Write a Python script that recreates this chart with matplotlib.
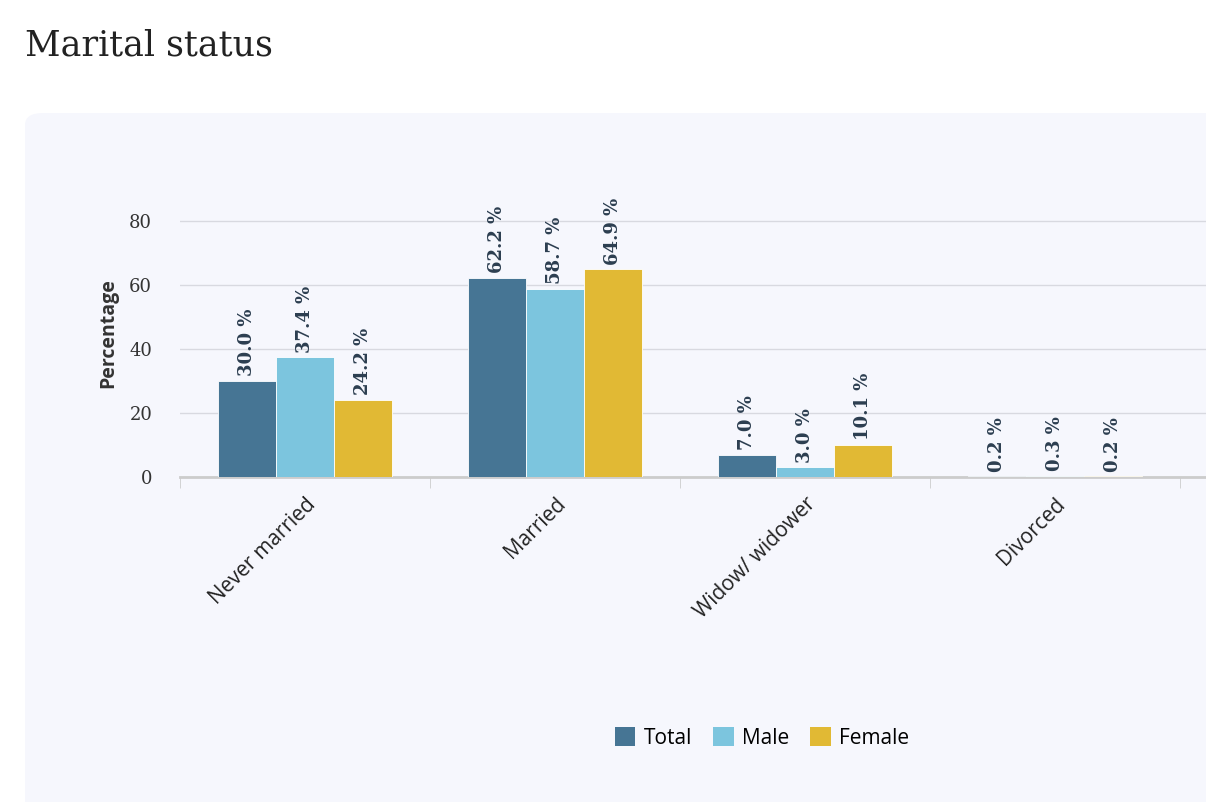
import matplotlib
matplotlib.use("Agg")
import matplotlib.pyplot as plt
from matplotlib.patches import FancyBboxPatch, Patch
import numpy as np

categories = ["Never married", "Married", "Widow/ widower", "Divorced"]
series = ["Total", "Male", "Female"]
total = [30.0, 62.2, 7.0, 0.2]
male = [37.4, 58.7, 3.0, 0.3]
female = [24.2, 64.9, 10.1, 0.2]
colors = ["#467594", "#7cc5de", "#e1b934"]
yticks = [0, 20, 40, 60, 80]

fig = plt.figure(figsize=(12.06, 8.02), dpi=100)
fig.patch.set_facecolor("white")
fig.add_artist(FancyBboxPatch((25/1206, -0.05), 1.2, 1-113/802+0.05, boxstyle="round,pad=0,rounding_size=0.015",
                              transform=fig.transFigure, facecolor="#f6f7fd", edgecolor="none", zorder=0))
fig.text(25/1206, 1-45/802, "Marital status", family="DejaVu Serif", fontsize=25, color="#222222", va="center")

ax = fig.add_axes([180/1206, 1-477/802, 1026/1206, (477-189)/802])
ax.set_facecolor("none")
x = np.arange(len(categories))
w = 0.232
for i, (vals, c) in enumerate(zip([total, male, female], colors)):
    pos = x + (i-1)*w
    ax.bar(pos, vals, width=w, color=c, zorder=3, edgecolor="white", linewidth=0.6)
    for p, v in zip(pos, vals):
        ax.text(p, v+1.5, f"{v:.1f} %", rotation=90, ha="center", va="bottom",
                family="DejaVu Serif", fontweight="bold", fontsize=13, color="#2c3e50")
ax.set_xlim(-0.5, 3.604)
ax.set_ylim(0, 90)
ax.set_yticks(yticks)
ax.set_yticklabels([str(t) for t in yticks], family="DejaVu Serif", fontsize=13, color="#333333")
ax.yaxis.grid(True, color="#d8d9e0", linewidth=1, zorder=0)
ax.tick_params(axis="y", length=0, pad=20)
ax.set_xticks(np.arange(-0.5, 4, 1), minor=True)
ax.set_xticks(x)
ax.set_xticklabels(categories, rotation=45, ha="right", rotation_mode="anchor",
                   family="Open Sans", fontsize=15, color="#222222")
ax.tick_params(axis="x", which="major", length=0, pad=12)
ax.tick_params(axis="x", which="minor", length=8, color="#cccccc")
for s in ["top", "right", "left"]:
    ax.spines[s].set_visible(False)
ax.spines["bottom"].set_color("#cccccc")
ax.spines["bottom"].set_linewidth(2)
ax.set_ylabel("Percentage", family="Open Sans", fontweight="bold", fontsize=14, color="#333333", labelpad=8)

handles = [Patch(facecolor=c, label=s) for s, c in zip(series, colors)]
fig.legend(handles=handles, loc="center", bbox_to_anchor=(762/1206, 1-738/802), ncol=3, frameon=False,
           prop={"family": "Open Sans", "size": 15}, handlelength=1.0, handleheight=1.0, handletextpad=0.4, columnspacing=1.0)
fig.savefig("out.png", dpi=100)
